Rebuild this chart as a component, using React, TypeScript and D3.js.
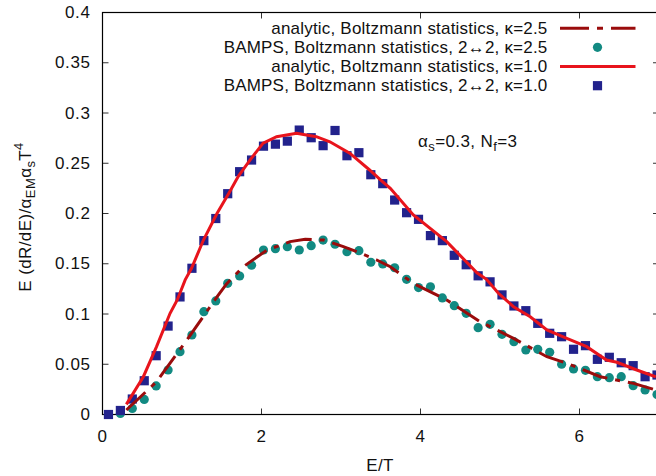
import React from "react";
import * as d3 from "d3";

const energies = [0.075,0.225,0.375,0.525,0.675,0.825,0.975,1.125,1.275,1.425,1.575,1.725,1.875,2.025,2.175,2.325,2.475,2.625,2.775,2.925,3.075,3.225,3.375,3.525,3.675,3.825,3.975,4.125,4.275,4.425,4.575,4.725,4.875,5.025,5.175,5.325,5.475,5.625,5.775,5.925,6.075,6.225,6.375,6.525,6.675,6.825,6.975];

const bampsK10 = [0.000,0.004,0.0154,0.0336,0.0585,0.088,0.117,0.1455,0.173,0.195,0.2197,0.2416,0.2532,0.267,0.269,0.272,0.283,0.2754,0.2675,0.2826,0.2575,0.2605,0.2386,0.2297,0.2134,0.2008,0.1942,0.178,0.173,0.1584,0.149,0.138,0.132,0.119,0.108,0.1033,0.0907,0.0808,0.0774,0.0649,0.0685,0.0549,0.0569,0.0515,0.0486,0.0376,0.0393];

const bampsK25 = [0.0,0.001,0.006,0.015,0.0284,0.0443,0.0625,0.0791,0.1023,0.113,0.1305,0.1378,0.1485,0.1637,0.165,0.167,0.1637,0.168,0.1736,0.1694,0.162,0.163,0.1515,0.1498,0.146,0.1345,0.1263,0.127,0.116,0.1083,0.1007,0.0864,0.0897,0.0798,0.0725,0.0642,0.0649,0.0619,0.05,0.0453,0.044,0.0376,0.0366,0.0376,0.0287,0.0244,0.020];

const analyticK10E = [0.3,0.514,0.68,0.85,0.94,1.04,1.12,1.27,1.44,1.6,1.71,1.855,2.02,2.19,2.44,2.69,2.86,3.11,3.36,3.49,3.62,3.91,4.33,4.71,4.83,4.98,5.17,5.38,5.59,5.84,6.09,6.34,6.47,6.72,6.96];
const analyticK10V = [0.0101,0.0376,0.0675,0.1007,0.114,0.134,0.1455,0.1736,0.2,0.2217,0.2373,0.2532,0.27,0.2764,0.2798,0.2764,0.2714,0.26,0.2433,0.234,0.225,0.1985,0.172,0.141,0.1345,0.1206,0.1073,0.0973,0.0841,0.0758,0.0675,0.0542,0.052,0.0443,0.0376];

const analyticK25E = [0.3,0.68,1.06,1.44,1.56,1.77,2.07,2.36,2.55,2.78,3.03,3.2,3.45,3.62,3.91,4.33,4.75,5.17,5.59,5.84,6.26,6.68,6.96];
const analyticK25V = [0.0045,0.0326,0.074,0.117,0.13,0.147,0.1637,0.172,0.1743,0.1736,0.167,0.162,0.1537,0.147,0.1305,0.114,0.0923,0.0758,0.0575,0.051,0.0376,0.031,0.0244];

const xTicks = [0, 2, 4, 6];
const yTicks = [0, 0.05, 0.1, 0.15, 0.2, 0.25, 0.3, 0.35, 0.4];
const yTickLabels = ["0", "0.05", "0.1", "0.15", "0.2", "0.25", "0.3", "0.35", "0.4"];

const legendLabels = [
  "analytic, Boltzmann statistics, \u03ba=2.5",
  "BAMPS, Boltzmann statistics, 2\u21942, \u03ba=2.5",
  "analytic, Boltzmann statistics, \u03ba=1.0",
  "BAMPS, Boltzmann statistics, 2\u21942, \u03ba=1.0",
];

const RED = "#e8141c";
const DARKRED = "#9a0c0c";
const NAVY = "#22228c";
const TEAL = "#128a82";

const W = 656, H = 476;
const L = 102.5, R = 659, T = 12.5, B = 414.5;
const FONT = "'Liberation Sans', Arial, Helvetica, sans-serif";

export default function App() {
  const x = d3.scaleLinear().domain([0, 7]).range([L, R]);
  const y = d3.scaleLinear().domain([0, 0.4]).range([B, T]);
  const line = d3.line<[number, number]>().x(d => x(d[0])).y(d => y(d[1]));
  const k10 = line(analyticK10E.map((e, i) => [e, analyticK10V[i]] as [number, number])) || "";
  const k25 = line(analyticK25E.map((e, i) => [e, analyticK25V[i]] as [number, number])) || "";
  const dash = "26,8,5,8";
  const tl = 6;
  const legX = 547.5, legYs = [28.3, 47.3, 66.5, 85.7], sampleX1 = 560, sampleX2 = 635.5, markX = 597.5;

  return (
    <svg width={W} height={H} style={{ position: "absolute", left: 0, top: 0, background: "#fff" }} fontFamily={FONT}>
      <rect x={0} y={0} width={W} height={H} fill="#fff" />
      {xTicks.map(t => (
        <g key={"xt" + t}>
          <line x1={x(t)} x2={x(t)} y1={B} y2={B - tl} stroke="#333" strokeWidth={1} />
          <line x1={x(t)} x2={x(t)} y1={T} y2={T + tl} stroke="#333" strokeWidth={1} />
          <text x={x(t)} y={436} fontSize={17} letterSpacing={0.4} textAnchor="middle" dominantBaseline="central" fill="#111">{t}</text>
        </g>
      ))}
      {yTicks.map((t, i) => (
        <g key={"yt" + t}>
          <line x1={L} x2={L + tl} y1={y(t)} y2={y(t)} stroke="#333" strokeWidth={1} />
          <line x1={R} x2={R - tl} y1={y(t)} y2={y(t)} stroke="#333" strokeWidth={1} />
          <text x={90.5} y={y(t)} fontSize={17} letterSpacing={0.6} textAnchor="end" dominantBaseline="central" fill="#111">{yTickLabels[i]}</text>
        </g>
      ))}
      <rect x={L} y={T} width={R - L} height={B - T} fill="none" stroke="#000" strokeWidth={1.2} />
      <g>
        {energies.map((e, i) => (
          <circle key={"c" + i} cx={x(e)} cy={y(bampsK25[i])} r={4.6} fill={TEAL} />
        ))}
        {energies.map((e, i) => (
          <rect key={"s" + i} x={x(e) - 4.6} y={y(bampsK10[i]) - 4.6} width={9.2} height={9.2} fill={NAVY} />
        ))}
        <path d={k25} fill="none" stroke={DARKRED} strokeWidth={3} strokeDasharray={dash} />
        <path d={k10} fill="none" stroke={RED} strokeWidth={3} />
      </g>
      {legendLabels.map((lab, i) => (
        <text key={"lg" + i} x={legX} y={legYs[i]} fontSize={17} letterSpacing={0.2} textAnchor="end" dominantBaseline="central" fill="#111">{lab}</text>
      ))}
      <line x1={sampleX1} x2={sampleX2} y1={legYs[0]} y2={legYs[0]} stroke={DARKRED} strokeWidth={3} strokeDasharray="29,8,6,8" />
      <circle cx={markX} cy={legYs[1]} r={4.6} fill={TEAL} />
      <line x1={sampleX1} x2={sampleX2} y1={legYs[2]} y2={legYs[2]} stroke={RED} strokeWidth={3} />
      <rect x={markX - 4.6} y={legYs[3] - 4.6} width={9.2} height={9.2} fill={NAVY} />
      <text x={418} y={147} fontSize={17} letterSpacing={0.4} fill="#111">
        {"\u03b1"}<tspan fontSize={13} dy={4}>s</tspan><tspan dy={-4}>=0.3, N</tspan><tspan fontSize={13} dy={4}>f</tspan><tspan dy={-4}>=3</tspan>
      </text>
      <text x={380} y={465} fontSize={17} letterSpacing={0.4} textAnchor="middle" dominantBaseline="central" fill="#111">E/T</text>
      <text transform="translate(31,217) rotate(-90)" fontSize={17} letterSpacing={0.4} textAnchor="middle" fill="#111">
        {"E (dR/dE)/\u03b1"}<tspan fontSize={13} dy={4}>EM</tspan><tspan dy={-4}>{"\u03b1"}</tspan><tspan fontSize={13} dy={4}>s</tspan><tspan dy={-4}>T</tspan><tspan fontSize={13} dy={-8}>4</tspan>
      </text>
    </svg>
  );
}
